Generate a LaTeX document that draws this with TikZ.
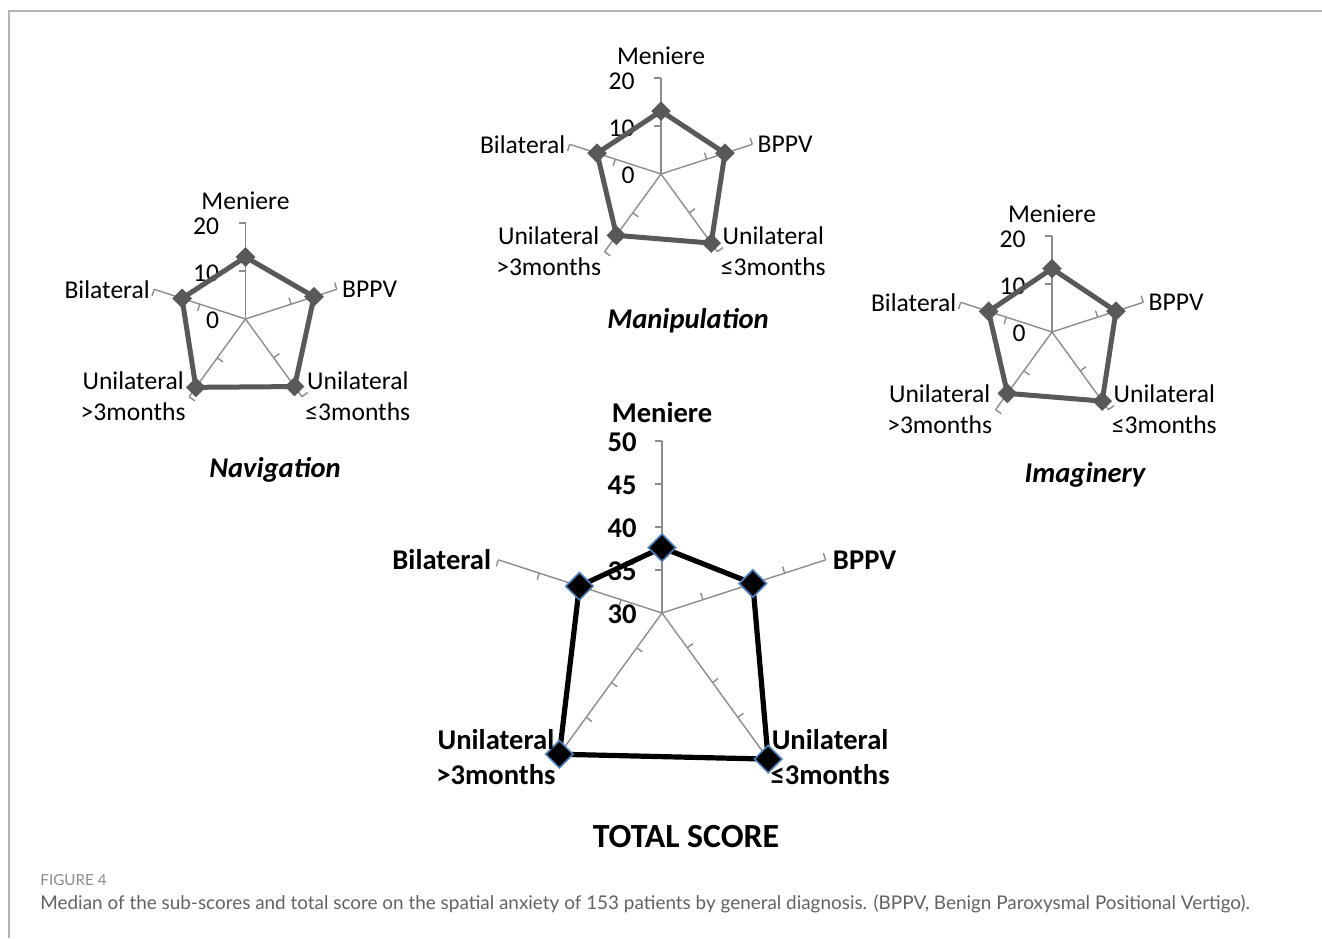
\documentclass[tikz,border=0pt]{standalone}
\usepackage{fontspec}
\usepackage{tikz}
\usetikzlibrary{calc}
\usetikzlibrary{shapes.geometric}
\newfontfamily\chartfont{Carlito}
\newfontfamily\capfont{Lato}
\definecolor{axisgray}{HTML}{8C8C8C}
\definecolor{subgray}{HTML}{595959}
\definecolor{markblue}{HTML}{4F81BD}
\definecolor{framegray}{HTML}{B4B4B4}
\definecolor{capgray}{HTML}{626262}
\definecolor{figgray}{HTML}{8A8A8A}
\tikzstyle{axisline} = [draw=axisgray, line width=0.7pt]
\tikzstyle{subline} = [draw=subgray, line width=2.5pt, line join=round]
\tikzstyle{submark} = [diamond, fill=subgray, minimum size=10pt, inner sep=0pt]
\tikzstyle{totline} = [draw=black, line width=2.6pt, line join=round]
\tikzstyle{totmark} = [diamond, fill=black, draw=markblue, line width=0.8pt, minimum size=14pt, inner sep=0pt]
\tikzstyle{sublabel} = [font=\chartfont\fontsize{12.8}{15.5}\selectfont, inner sep=1.5pt, align=center]
\tikzstyle{subnum} = [font=\chartfont\fontsize{12.8}{15.5}\selectfont, inner sep=0pt, anchor=east]
\tikzstyle{totlabel} = [font=\chartfont\bfseries\fontsize{14.3}{17.5}\selectfont, inner sep=1.5pt, align=center]
\tikzstyle{totnum} = [font=\chartfont\bfseries\fontsize{14.3}{17.5}\selectfont, inner sep=0pt, anchor=east]
\tikzstyle{charttitle} = [font=\chartfont\bfseries\itshape\fontsize{14.3}{17}\selectfont]
\begin{document}
\begin{tikzpicture}[x=0.5pt, y=0.5pt]
    \useasboundingbox (0,0) rectangle (1322,938);

    % frame
    \coordinate (fr-tl) at (9,927);
    \coordinate (fr-tr) at (1322,927);
    \coordinate (fr-bl) at (9,0);
    \draw [framegray, line width=0.75pt] (fr-tr) -- (fr-tl) -- (fr-bl);

    % sub-scores: name/x/y/title x/title y/title/Meniere/BPPV/Uni<=3/Uni>3/Bilateral
    \foreach \ch/\cx/\cy/\tx/\ty/\ttl/\va/\vb/\vc/\vd/\ve in {nav/245.5/619/275/468/Navigation/12.9/15/17.4/17.6/13.9, man/661/764/688/617/Manipulation/13.1/14/17.8/15.8/14, ima/1052/606/1085/463/Imaginery/13.2/14/17.8/15.8/13.9} {
        \coordinate (\ch-c) at (\cx,\cy);
        \foreach \k/\ang in {1/90, 2/18, 3/-54, 4/-126, 5/162} {
            \coordinate (\ch-e\k) at ($(\ch-c)+(\ang:48pt)$);
            \draw [axisline] (\ch-c) -- (\ch-e\k);
            \foreach \f in {0.5, 1} {
                \draw [axisline] ($(\ch-c)!\f!(\ch-e\k)$) -- ++({\ang+90}:3.5pt);
            }
        }
        \node [subnum] (\ch-t20) at ($(\ch-e1)+(-26,-3)$) {20};
        \node [subnum] (\ch-t10) at ($(\ch-c)!0.5!(\ch-e1)+(-26,-2)$) {10};
        \node [subnum] (\ch-t0) at ($(\ch-c)+(-26,-1)$) {0};

        \coordinate (\ch-p1) at ($(\ch-c)!{\va/20}!(\ch-e1)$);
        \coordinate (\ch-p2) at ($(\ch-c)!{\vb/20}!(\ch-e2)$);
        \coordinate (\ch-p3) at ($(\ch-c)!{\vc/20}!(\ch-e3)$);
        \coordinate (\ch-p4) at ($(\ch-c)!{\vd/20}!(\ch-e4)$);
        \coordinate (\ch-p5) at ($(\ch-c)!{\ve/20}!(\ch-e5)$);
        \draw [subline] (\ch-p1) -- (\ch-p2) -- (\ch-p3) -- (\ch-p4) -- (\ch-p5) -- cycle;
        \foreach \k in {1,...,5} {
            \node [submark] (\ch-m\k) at (\ch-p\k) {};
        }

        \node [sublabel, anchor=base] (\ch-l1) at ($(\ch-e1)+(0,13)$) {Meniere};
        \node [sublabel, anchor=west] (\ch-l2) at ($(\ch-e2)+(2,0)$) {BPPV};
        \node [sublabel, anchor=west] (\ch-l3) at (\ch-e3) {Unilateral\\≤3months};
        \node [sublabel, anchor=east] (\ch-l4) at (\ch-e4) {Unilateral\\>3months};
        \node [sublabel, anchor=east] (\ch-l5) at ($(\ch-e5)+(-1,0)$) {Bilateral};
        \node [charttitle] (\ch-title) at (\tx,\ty) {\ttl};
    }

    % total score
    \coordinate (tot-c) at (662,325);
    \foreach \k/\ang in {1/90, 2/18, 3/-54, 4/-126, 5/162} {
        \coordinate (tot-e\k) at ($(tot-c)+(\ang:86pt)$);
        \draw [axisline] (tot-c) -- (tot-e\k);
        \foreach \f in {0.25, 0.5, 0.75, 1} {
            \draw [axisline] ($(tot-c)!\f!(tot-e\k)$) -- ++({\ang+90}:3.5pt);
        }
    }
    \foreach \v/\f in {30/0, 35/0.25, 40/0.5, 45/0.75, 50/1} {
        \node [totnum] (tot-t\v) at ($(tot-c)!\f!(tot-e1)+(-25,-1)$) {\v};
    }

    \coordinate (tot-p1) at ($(tot-c)!0.38!(tot-e1)$);
    \coordinate (tot-p2) at ($(tot-c)!0.555!(tot-e2)$);
    \coordinate (tot-p3) at ($(tot-c)!1.05!(tot-e3)$);
    \coordinate (tot-p4) at ($(tot-c)!1.015!(tot-e4)$);
    \coordinate (tot-p5) at ($(tot-c)!0.505!(tot-e5)$);
    \draw [totline] (tot-p1) -- (tot-p2) -- (tot-p3) -- (tot-p4) -- (tot-p5) -- cycle;
    \foreach \k in {1,...,5} {
        \node [totmark] (tot-m\k) at (tot-p\k) {};
    }

    \node [totlabel, anchor=base] (tot-l1) at ($(tot-e1)+(0,18)$) {Meniere};
    \node [totlabel, anchor=west] (tot-l2) at ($(tot-e2)+(4,0)$) {BPPV};
    \node [totlabel, anchor=west] (tot-l3) at ($(tot-e3)+(4,-5)$) {Unilateral\\≤3months};
    \node [totlabel, anchor=east] (tot-l4) at ($(tot-e4)+(-2,-5)$) {Unilateral\\>3months};
    \node [totlabel, anchor=east] (tot-l5) at ($(tot-e5)+(-4,0)$) {Bilateral};
    \node [font=\chartfont\bfseries\fontsize{16.9}{20}\selectfont] (tot-title) at (686,101) {TOTAL SCORE};

    % caption
    \node [font=\capfont\fontsize{7.6}{9}\selectfont, text=figgray, anchor=base west, inner sep=0pt] (fig-num) at (40,53) {FIGURE 4};
    \node [font=\capfont\fontsize{9.45}{11}\selectfont, text=capgray, anchor=base west, inner sep=0pt] (fig-cap) at (40,29) {Median of the sub-scores and total score on the spatial anxiety of 153 patients by general diagnosis. (BPPV, Benign Paroxysmal Positional Vertigo).};
\end{tikzpicture}
\end{document}
